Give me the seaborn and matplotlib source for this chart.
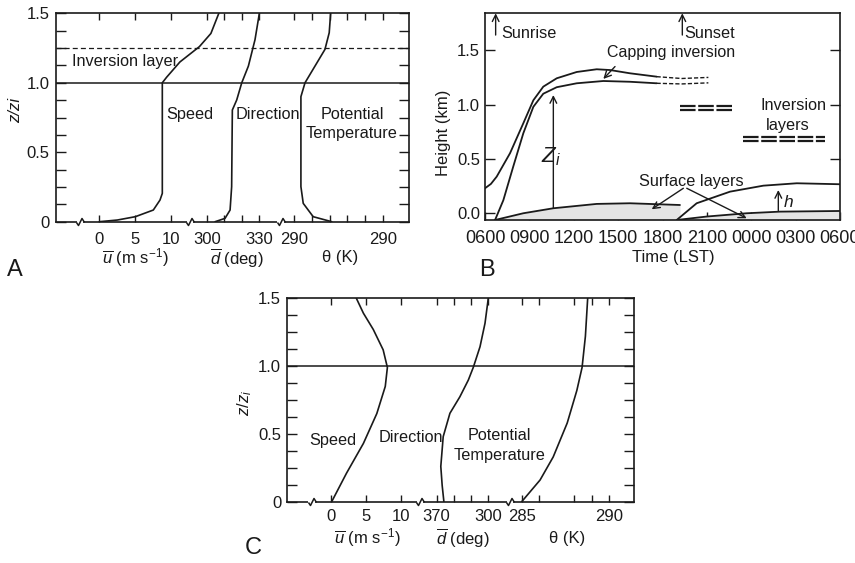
import numpy as np
import pandas as pd
import matplotlib
matplotlib.use("Agg")
import matplotlib.pyplot as plt
import seaborn as sns
from matplotlib.path import Path

sns.set_theme(style="white")
plt.rcParams["font.family"] = ["Liberation Sans", "DejaVu Sans"]
plt.rcParams["mathtext.fontset"] = "custom"
plt.rcParams["mathtext.rm"] = "Liberation Sans"
plt.rcParams["mathtext.it"] = "Liberation Sans:italic"
plt.rcParams["mathtext.bf"] = "Liberation Sans:bold"

INK = "#1a1a1a"

# ---------------- Panel A data (convective boundary layer profiles) ----------------
A_speed_u = [0, 2.5, 5, 7.5, 8.43, 8.75, 8.75, 9.35, 11.2, 13.9, 15.5, 16.6]
A_speed_z = [0, 0.012, 0.036, 0.084, 0.156, 0.204, 1.0, 1.04, 1.15, 1.26, 1.355, 1.5]
A_dir_d = [304.8, 310.5, 313.4, 314.3, 314.7, 317.2, 320.1, 323.9, 327.7, 330.2]
A_dir_z = [0, 0.024, 0.084, 0.252, 0.804, 0.876, 1.0, 1.12, 1.31, 1.5]
A_theta = [292.12, 291.08, 290.52, 290.39, 290.39, 290.62, 291.18, 291.74, 291.98, 292.06]
A_theta_z = [0, 0.036, 0.132, 0.252, 0.9, 1.0, 1.12, 1.24, 1.36, 1.5]
A_speed_ticks = [0, 5, 10]
A_speed_labels = ["0", "5", "10"]
A_dir_ticks = [300, 310, 320, 330]
A_dir_labels = ["300", "", "", "330"]
A_theta_ticks = [290, 291, 292, 293, 294, 295]
A_theta_labels = ["290", "", "", "", "", "290"]
A_zi = 1.0
A_inv_top = 1.25

# ---------------- Panel B data (diurnal evolution) ----------------
B_cap_top_t = [0, 0.4, 0.79, 1.69, 2.59, 3.27, 3.94, 4.85, 6.2, 7.55, 8.45, 9.8, 11.6]
B_cap_top_h = [0.23, 0.27, 0.337, 0.552, 0.828, 1.04, 1.165, 1.242, 1.30, 1.325, 1.318, 1.288, 1.257]
B_cap_top_dash_t = [11.6, 13.3, 15.1]
B_cap_top_dash_h = [1.257, 1.24, 1.25]
B_zi_t = [0.68, 1.24, 1.91, 2.59, 3.27, 3.94, 4.85, 6.2, 8.0, 9.8, 11.6]
B_zi_h = [-0.062, 0.12, 0.43, 0.736, 0.98, 1.10, 1.16, 1.196, 1.217, 1.21, 1.196]
B_zi_dash_t = [11.6, 13.3, 15.1]
B_zi_dash_h = [1.196, 1.19, 1.20]
B_sl_day_t = [0.68, 2.59, 4.62, 7.55, 9.8, 13.18]
B_sl_day_h = [-0.062, 0.0, 0.046, 0.086, 0.092, 0.076]
B_sl_night_t = [12.96, 15.0, 17.69, 19.95, 24.0]
B_sl_night_h = [-0.062, -0.03, 0.0, 0.015, 0.021]
B_sbl_t = [12.96, 14.31, 16.57, 18.82, 21.08, 24.0]
B_sbl_h = [-0.062, 0.092, 0.199, 0.254, 0.276, 0.267]
B_inv1_t = [13.18, 16.68]
B_inv1_h = [0.986, 0.95]
B_inv2_t = [17.47, 22.99]
B_inv2_h = [0.705, 0.668]
B_time_ticks = [0, 3, 6, 9, 12, 15, 18, 21, 24]
B_time_labels = ["0600", "0900", "1200", "1500", "1800", "2100", "0000", "0300", "0600"]
B_height_ticks = [0.0, 0.5, 1.0, 1.5]
B_sunrise = 0.72
B_sunset = 13.34

# ---------------- Panel C data (stable/neutral profiles) ----------------
C_speed_u = [0.1, 2.2, 4.6, 6.5, 7.7, 8.0, 7.4, 6.0, 4.6, 3.6]
C_speed_z = [0, 0.21, 0.43, 0.65, 0.85, 0.99, 1.12, 1.27, 1.39, 1.5]
C_dir_d = [274.2, 273.2, 272.4, 273.8, 277.7, 283.5, 288.4, 291.3, 295.2, 298.1, 300.0]
C_dir_z = [0, 0.12, 0.26, 0.48, 0.652, 0.774, 0.897, 0.991, 1.143, 1.316, 1.5]
C_theta = [285.0, 286.05, 286.8, 287.6, 288.15, 288.45, 288.64, 288.77]
C_theta_z = [0, 0.16, 0.33, 0.58, 0.82, 0.99, 1.22, 1.5]
C_speed_ticks = [0, 5, 10]
C_speed_labels = ["0", "5", "10"]
C_dir_ticks = [270, 280, 290, 300]
C_dir_labels = ["370", "", "", "300"]
C_theta_ticks = [285, 286, 288, 289, 290]
C_theta_labels = ["285", "", "", "", "290"]

Z_TICKS = np.arange(0, 1.5001, 0.125)
Z_LABELS = ["0" if abs(t) < 1e-9 else (f"{t:.1f}" if abs(t * 2 - round(t * 2)) < 1e-9 else "") for t in Z_TICKS]

# composite-axis scale parameters (speed units on the axis)
A_map = dict(d0=300, dx=14.92, dk=0.2421, t0=290, tx=27.04, tk=2.472, xlim=(-6.06, 43.06), breaks=[-2.68, 12.6, 25.2])
C_map = dict(d0=270, dx=14.99, dk=0.244, t0=285, tx=27.05, tk=2.482, xlim=(-6.28, 43.02), breaks=[-2.74, 12.62, 25.39])

W, H = 855, 563
fig = plt.figure(figsize=(W / 100, H / 100), dpi=100)


def ax_px(l, t, r, b):
    return fig.add_axes([l / W, 1 - b / H, (r - l) / W, (b - t) / H])


def ftext(x, y, s, **kw):
    kw.setdefault("ha", "center")
    kw.setdefault("va", "center")
    kw.setdefault("color", INK)
    fig.text(x / W, 1 - y / H, s, **kw)


def style_axes(ax):
    for sp in ax.spines.values():
        sp.set_visible(True)
        sp.set_color(INK)
        sp.set_linewidth(1.2)
    ax.grid(False)
    ax.set_facecolor("white")


zig = Path([(-4, 0), (-2, -3), (1.5, 4), (4, 0)], [Path.MOVETO, Path.LINETO, Path.LINETO, Path.LINETO])


def profile_panel(ax, m, sp_u, sp_z, d_d, d_z, th, th_z, spt, spl, dt, dl, tt, tl, pads):
    def dmap(v):
        return [m["dx"] + (x - m["d0"]) * m["dk"] for x in v]

    def tmap(v):
        return [m["tx"] + (x - m["t0"]) * m["tk"] for x in v]

    for xs, zs in [(list(sp_u), sp_z), (dmap(d_d), d_z), (tmap(th), th_z)]:
        sns.lineplot(x=xs, y=zs, sort=False, estimator=None, color=INK, lw=1.2, ax=ax)
    ax.set_xlim(*m["xlim"])
    ax.set_ylim(0, 1.5)
    ticks = list(spt) + dmap(dt) + tmap(tt)
    labels = list(spl) + list(dl) + list(tl)
    ax.set_xticks(ticks)
    ax.set_xticklabels(labels)
    ax.set_yticks(Z_TICKS)
    ax.set_yticklabels(Z_LABELS)
    ax.tick_params(axis="x", direction="in", length=5, width=1, top=True, bottom=True,
                   labelsize=12, pad=pads[0], colors=INK)
    ax.tick_params(axis="y", direction="in", length=7, width=1, left=True, right=True,
                   labelsize=12, pad=pads[1], colors=INK)
    for b in m["breaks"]:
        ax.plot([b - 0.45, b + 0.45], [0, 0], color="white", lw=3, clip_on=False, zorder=5,
                solid_capstyle="butt")
        ax.plot([b], [0], marker=zig, ms=5.8, mew=1.1, mec=INK, mfc="none", ls="none",
                clip_on=False, zorder=6)
    ax.axhline(1.0, color=INK, lw=1.1)
    ax.set_xlabel("")
    ax.set_ylabel("")


# ---------------- Panel A ----------------
axA = ax_px(55.7, 13.3, 409.3, 221.7)
style_axes(axA)
profile_panel(axA, A_map, A_speed_u, A_speed_z, A_dir_d, A_dir_z, A_theta, A_theta_z,
              A_speed_ticks, A_speed_labels, A_dir_ticks, A_dir_labels, A_theta_ticks, A_theta_labels,
              (7.5, 4.5))
axA.axhline(A_inv_top, color=INK, lw=0.9, ls=(0, (4, 2.5)))
axA.text(3.58, 1.156, "Inversion layer", fontsize=11.7, ha="center", va="center", color=INK)
axA.text(12.6, 0.768, "Speed", fontsize=11.7, ha="center", va="center", color=INK)
axA.text(23.4, 0.768, "Direction", fontsize=11.7, ha="center", va="center", color=INK)
axA.text(35.1, 0.768, "Potential", fontsize=11.7, ha="center", va="center", color=INK)
axA.text(35.1, 0.638, "Temperature", fontsize=11.7, ha="center", va="center", color=INK)
ftext(16, 110, "z/zi", fontsize=12, rotation=90, style="italic")
ftext(135, 258, r"$\overline{u}$ (m s$^{-1}$)", fontsize=12)
ftext(237, 258, r"$\overline{d}$ (deg)", fontsize=12)
ftext(340, 258, "θ (K)", fontsize=12)
ftext(15, 270, "A", fontsize=17)

# ---------------- Panel B ----------------
axB = ax_px(485, 13.3, 840, 220)
style_axes(axB)
axB.set_xlim(0, 24)
axB.set_ylim(-0.062, 1.84)
axB.fill_between(B_sl_day_t, B_sl_day_h, -0.062, color="#e4e4e4", lw=0)
axB.fill_between(B_sl_night_t, B_sl_night_h, -0.062, color="#e4e4e4", lw=0)
for t, h in [(B_cap_top_t, B_cap_top_h), (B_zi_t, B_zi_h), (B_sl_day_t, B_sl_day_h),
             (B_sl_night_t, B_sl_night_h), (B_sbl_t, B_sbl_h)]:
    sns.lineplot(x=t, y=h, sort=False, estimator=None, color=INK, lw=1.3, ax=axB)
for t, h in [(B_cap_top_dash_t, B_cap_top_dash_h), (B_zi_dash_t, B_zi_dash_h)]:
    sns.lineplot(x=t, y=h, sort=False, estimator=None, color=INK, lw=1.0, ax=axB,
                 linestyle=(0, (3, 1.5)))
for t, h in [(B_inv1_t, B_inv1_h), (B_inv2_t, B_inv2_h)]:
    for hh in h:
        axB.plot(t, [hh, hh], color=INK, lw=1.6, ls=(0, (7, 1.2)))
axB.set_xticks(B_time_ticks)
axB.set_xticklabels(B_time_labels)
axB.set_yticks(B_height_ticks)
axB.set_yticklabels([f"{v:.1f}" for v in B_height_ticks])
axB.tick_params(axis="x", direction="in", length=6, width=1, bottom=True, top=False,
                labelsize=13, pad=7, colors=INK)
axB.tick_params(axis="y", direction="in", length=7, width=1, left=True, right=True,
                labelsize=12, pad=3.5, colors=INK)
axB.set_xlabel("")
axB.set_ylabel("")
arrow = dict(arrowstyle="->", color=INK, lw=1.0, shrinkA=0, shrinkB=0)
axB.annotate("", xy=(B_sunrise, 1.84), xytext=(B_sunrise, 1.64), arrowprops=arrow, annotation_clip=False)
axB.annotate("", xy=(B_sunset, 1.84), xytext=(B_sunset, 1.64), arrowprops=arrow, annotation_clip=False)
axB.text(1.08, 1.656, "Sunrise", fontsize=11.7, ha="left", va="center", color=INK)
axB.text(13.46, 1.656, "Sunset", fontsize=11.7, ha="left", va="center", color=INK)
axB.text(12.55, 1.48, "Capping inversion", fontsize=11.5, ha="center", va="center", color=INK)
axB.annotate("", xy=(8.0, 1.236), xytext=(8.79, 1.35), arrowprops=arrow)
axB.annotate("", xy=(4.62, 1.088), xytext=(4.62, 0.046), arrowprops=arrow)
axB.text(4.45, 0.52, "$Z_i$", fontsize=16, ha="center", va="center", color=INK)
axB.text(13.98, 0.29, "Surface layers", fontsize=11.7, ha="center", va="center", color=INK)
axB.annotate("", xy=(11.27, 0.037), xytext=(13.41, 0.23), arrowprops=arrow)
axB.annotate("", xy=(17.69, -0.046), xytext=(13.64, 0.23), arrowprops=arrow)
axB.annotate("", xy=(19.83, 0.214), xytext=(19.83, 0.024), arrowprops=arrow)
axB.text(20.5, 0.10, "h", fontsize=12.5, style="italic", ha="center", va="center", color=INK)
axB.text(20.85, 0.987, "Inversion", fontsize=11.7, ha="center", va="center", color=INK)
axB.text(20.5, 0.803, "layers", fontsize=11.7, ha="center", va="center", color=INK)
ftext(443, 133, "Height (km)", fontsize=12, rotation=90)
ftext(673, 258, "Time (LST)", fontsize=12)
ftext(487, 270, "B", fontsize=17)

# ---------------- Panel C ----------------
axC = ax_px(286.7, 298.3, 634.3, 501.7)
style_axes(axC)
profile_panel(axC, C_map, C_speed_u, C_speed_z, C_dir_d, C_dir_z, C_theta, C_theta_z,
              C_speed_ticks, C_speed_labels, C_dir_ticks, C_dir_labels, C_theta_ticks, C_theta_labels,
              (5.5, 4))
axC.text(0.24, 0.455, "Speed", fontsize=11.7, ha="center", va="center", color=INK)
axC.text(11.3, 0.475, "Direction", fontsize=11.7, ha="center", va="center", color=INK)
axC.text(23.9, 0.485, "Potential", fontsize=11.7, ha="center", va="center", color=INK)
axC.text(23.9, 0.34, "Temperature", fontsize=11.7, ha="center", va="center", color=INK)
ftext(245, 403, "$z/z_i$", fontsize=12, rotation=90)
ftext(367, 538, r"$\overline{u}$ (m s$^{-1}$)", fontsize=12)
ftext(463, 538, r"$\overline{d}$ (deg)", fontsize=12)
ftext(567, 538, "θ (K)", fontsize=12)
ftext(253, 548, "C", fontsize=17)

fig.savefig("out.png", dpi=100, facecolor="white")
